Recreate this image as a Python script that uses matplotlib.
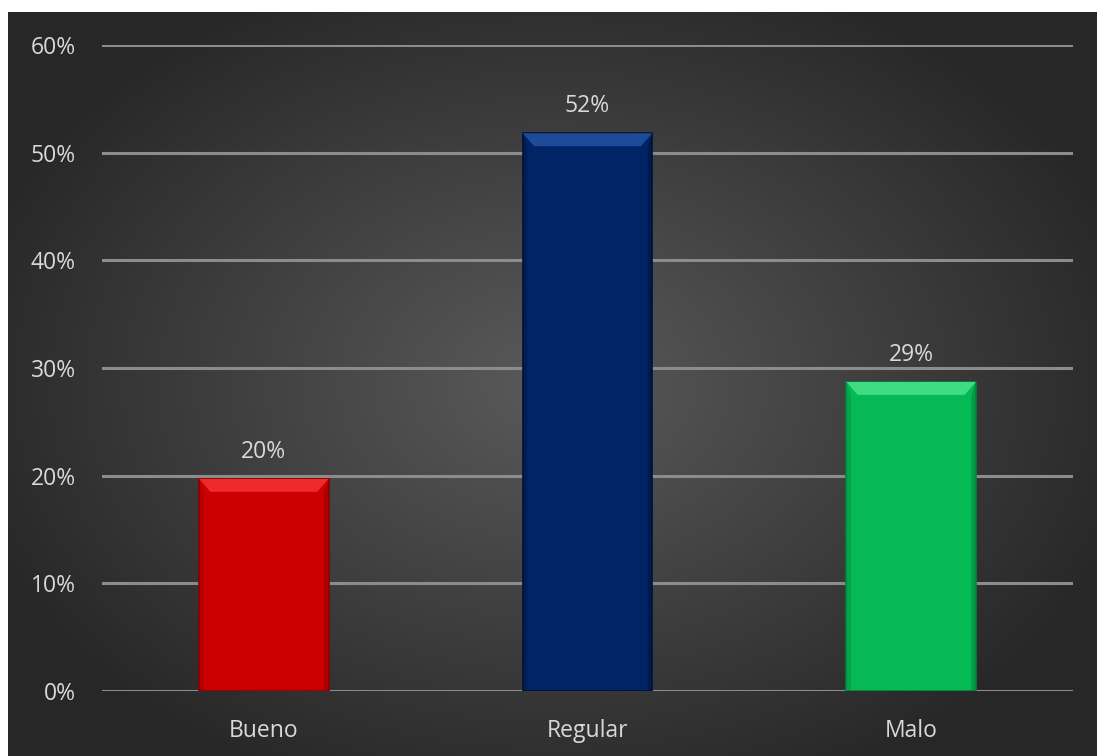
import numpy as np
import matplotlib
matplotlib.use("Agg")
import matplotlib.pyplot as plt
from matplotlib.patches import Polygon

# chart data
categories = ["Bueno", "Regular", "Malo"]
values = [0.197, 0.518, 0.287]
labels = ["20%", "52%", "29%"]
bar_colors = ["#cc0000", "#002466", "#05b955"]
top_colors = ["#ee2a2a", "#1e4a9a", "#3fdc84"]
edge_colors = ["#8a0000", "#001235", "#04803b"]
yticks = [0, 0.1, 0.2, 0.3, 0.4, 0.5, 0.6]
ytick_labels = ["0%", "10%", "20%", "30%", "40%", "50%", "60%"]

W, H = 1097, 756
fig = plt.figure(figsize=(W / 100, H / 100), dpi=100)
fig.patch.set_facecolor("white")

# radial gradient background (starts a little in from the top-left)
bg = fig.add_axes([8 / W, 0, 1 - 8 / W, 1 - 12 / H])
bg.set_axis_off()
yy, xx = np.mgrid[0:1:400j, 0:1:600j]
r = np.sqrt(((xx - 0.5) / 0.75) ** 2 + ((yy - 0.5) / 0.8) ** 2)
r = np.clip(r / 0.75, 0, 1)
inner = np.array([0x5a, 0x5a, 0x5a]) / 255
outer = np.array([0x27, 0x27, 0x27]) / 255
img = inner[None, None, :] * (1 - r[..., None]) + outer[None, None, :] * r[..., None]
bg.imshow(img, aspect="auto", extent=[0, 1, 0, 1])

ax = fig.add_axes([102 / W, (H - 691) / H, (1073 - 102) / W, (691 - 45) / H])
ax.patch.set_alpha(0)
x = np.arange(len(categories))
width = 0.40
ax.set_xlim(-0.5, len(categories) - 0.5)
ax.set_ylim(0, 0.6)

ax.set_yticks(yticks)
ax.set_yticklabels(ytick_labels)
ax.grid(axis="y", color="#8c8c8c", linewidth=2.2, zorder=0)
ax.set_axisbelow(True)
for s in ax.spines.values():
    s.set_visible(False)
ax.tick_params(length=0, colors="#d9d9d9", labelsize=16.5)
ax.tick_params(axis="y", pad=19)
ax.tick_params(axis="x", pad=20)
ax.set_xticks(x)
ax.set_xticklabels(categories)
for t in ax.get_xticklabels() + ax.get_yticklabels():
    t.set_fontfamily("Open Sans")

bars = ax.bar(x, values, width=width, color=bar_colors, edgecolor=edge_colors,
              linewidth=1.2, zorder=3)

# bevel: lighter strip along the top, faint shading on the sides
bev_x = 0.035
bev_y = 0.012
for b, tc, ec in zip(bars, top_colors, edge_colors):
    x0, x1 = b.get_x(), b.get_x() + b.get_width()
    h = b.get_height()
    ax.add_patch(Polygon([(x0, h), (x1, h), (x1 - bev_x, h - bev_y), (x0 + bev_x, h - bev_y)],
                         closed=True, facecolor=tc, edgecolor="none", zorder=4))
    ax.add_patch(Polygon([(x0, 0), (x0, h), (x0 + bev_x * 0.4, h - bev_y), (x0 + bev_x * 0.4, 0)],
                         closed=True, facecolor=ec, alpha=0.35, edgecolor="none", zorder=4))
    ax.add_patch(Polygon([(x1, 0), (x1, h), (x1 - bev_x * 0.4, h - bev_y), (x1 - bev_x * 0.4, 0)],
                         closed=True, facecolor=ec, alpha=0.5, edgecolor="none", zorder=4))

for xi, v, lab in zip(x, values, labels):
    ax.annotate(lab, (xi, v), xytext=(0, 11), textcoords="offset points",
                ha="center", va="bottom", color="#d9d9d9", fontsize=16.5,
                fontfamily="Open Sans")

fig.savefig("out.png", dpi=100)
